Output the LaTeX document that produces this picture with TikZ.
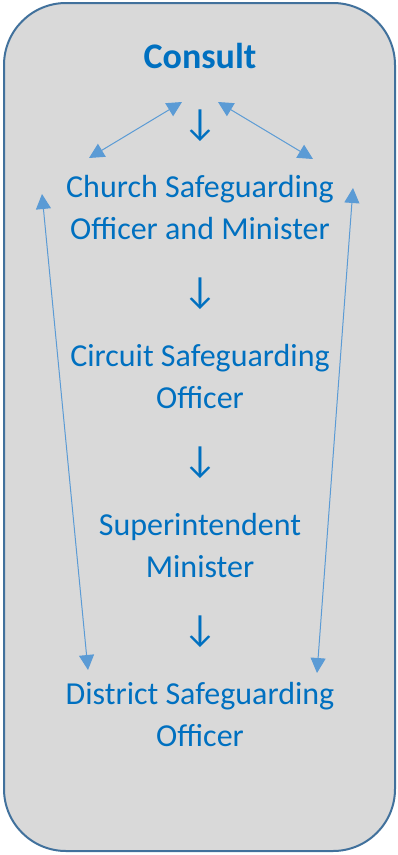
\documentclass[tikz,border=0pt]{standalone}
\usepackage{fontspec}
\setmainfont{Carlito}
\usetikzlibrary{positioning, arrows.meta}
\definecolor{clrpanel}{HTML}{D9D9D9}
\definecolor{clrborder}{HTML}{41719C}
\definecolor{clrtext}{HTML}{0070C0}
\definecolor{clrlink}{HTML}{5B9BD5}

\begin{document}
\begin{tikzpicture}[
    x=1pt, y=-1pt,
    every node/.style={font=\fontsize{32}{42}\selectfont, text=clrtext, inner sep=0pt},
    title/.style={font=\fontsize{36}{42}\selectfont\bfseries, anchor=base},
    role/.style={align=center, anchor=base},
    downmark/.style={anchor=center, font=\fontsize{38}{42}\selectfont},
    link/.style={{Triangle[length=15pt, width=15pt]}-{Triangle[length=15pt, width=15pt]}, color=clrlink, line width=1pt},
]
\useasboundingbox (0,0) rectangle (398,855);
\draw[draw=clrborder, fill=clrpanel, line width=2pt, rounded corners=62pt] (4,3) rectangle (395,851);
\node[title] (n_title) at (200,68) {Consult};
\node[downmark] (d_1) at (200,126) {↓};
\node[role] (n_church) at (200,239) {Church Safeguarding\\Officer and Minister};
\node[downmark] (d_2) at (200,294) {↓};
\node[role] (n_circuit) at (200,408) {Circuit Safeguarding\\Officer};
\node[downmark] (d_3) at (200,463) {↓};
\node[role] (n_super) at (200,577) {Superintendent\\Minister};
\node[downmark] (d_4) at (200,632) {↓};
\node[role] (n_district) at (200,746) {District Safeguarding\\Officer};
% arrow ends around the panel
\coordinate (c_tl) at (182,102);
\coordinate (c_tr) at (218,102);
\coordinate (c_cl) at (89,158);
\coordinate (c_cr) at (313,159);
\coordinate (c_ll) at (42,194);
\coordinate (c_lr) at (353,188);
\coordinate (c_bl) at (88,670);
\coordinate (c_br) at (317,673);
\draw[link] (c_tl) -- (c_cl);
\draw[link] (c_tr) -- (c_cr);
\draw[link] (c_ll) -- (c_bl);
\draw[link] (c_lr) -- (c_br);
\end{tikzpicture}
\end{document}
